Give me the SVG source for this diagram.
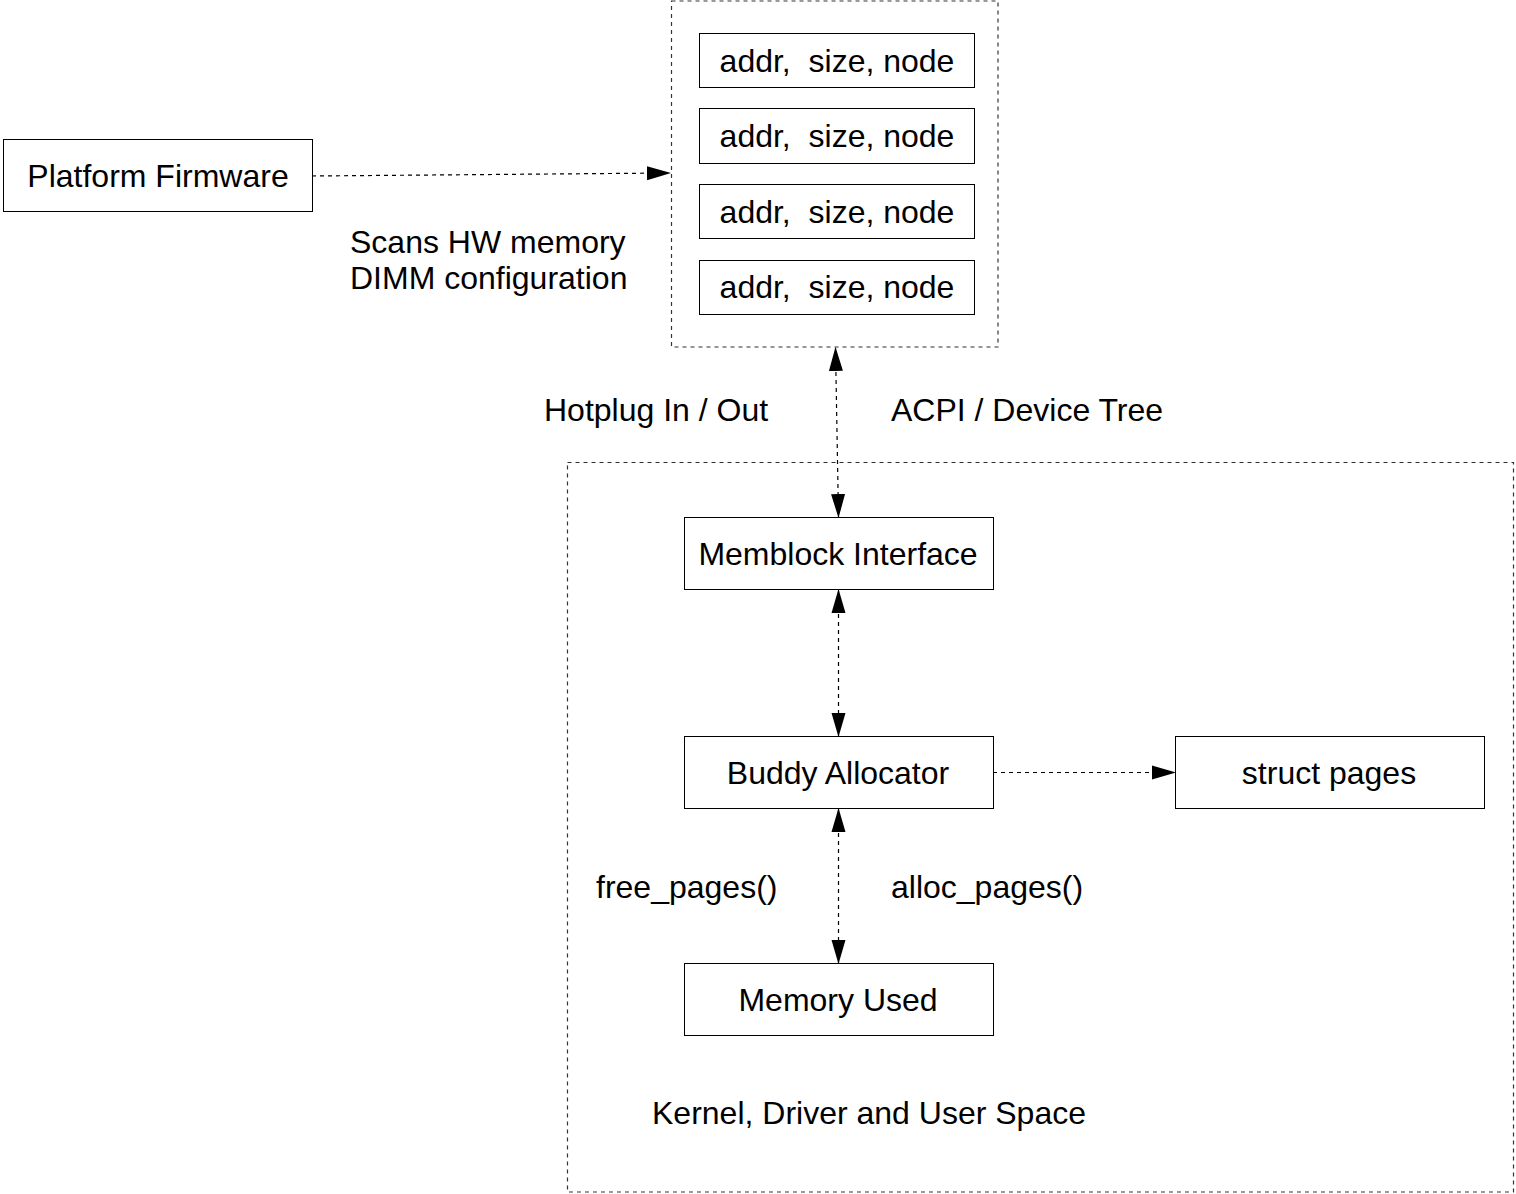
<svg xmlns="http://www.w3.org/2000/svg" width="1516" height="1194" viewBox="0 0 1516 1194">
  <style>
    .box { fill: #ffffff; stroke: #000000; stroke-width: 1; }
    .frame { fill: none; stroke: #333333; stroke-width: 1.2; stroke-dasharray: 4 4; }
    .link { fill: none; stroke: #000000; stroke-width: 1.2; stroke-dasharray: 4 4; }
    text { font-family: "Liberation Sans", Arial, sans-serif; font-size: 32px; fill: #000000; white-space: pre; }
    .c { text-anchor: middle; }
  </style>
  <defs>
    <marker id="arrow" viewBox="0 0 24 16" refX="23" refY="8" markerWidth="24" markerHeight="16" markerUnits="userSpaceOnUse" orient="auto-start-reverse">
      <path d="M0,1 L24,8 L0,15 Z" fill="#000000"/>
    </marker>
  </defs>

  <!-- containers -->
  <rect id="firmware-table" class="frame" x="671.5" y="1" width="326.5" height="346"/>
  <rect id="kernel-space" class="frame" x="567.5" y="462.5" width="946" height="729.5"/>

  <!-- connectors -->
  <g id="connectors">
    <line class="link" x1="312" y1="176" x2="670" y2="173" marker-end="url(#arrow)"/>
    <line class="link" x1="835.5" y1="348" x2="838.5" y2="517" marker-start="url(#arrow)" marker-end="url(#arrow)"/>
    <line class="link" x1="838.5" y1="590" x2="838.5" y2="736" marker-start="url(#arrow)" marker-end="url(#arrow)"/>
    <line class="link" x1="838.5" y1="809" x2="838.5" y2="963" marker-start="url(#arrow)" marker-end="url(#arrow)"/>
    <line class="link" x1="993" y1="772.5" x2="1175" y2="772.5" marker-end="url(#arrow)"/>
  </g>

  <g id="platform-firmware">
    <rect class="box" x="3.5" y="139.5" width="309" height="72"/>
    <text class="c" x="158" y="187">Platform Firmware</text>
  </g>

  <g id="entry-1">
    <rect class="box" x="699.5" y="33.5" width="275" height="54"/>
    <text class="c" x="837" y="72" xml:space="preserve">addr,  size, node</text>
  </g>
  <g id="entry-2">
    <rect class="box" x="699.5" y="108.5" width="275" height="55"/>
    <text class="c" x="837" y="147" xml:space="preserve">addr,  size, node</text>
  </g>
  <g id="entry-3">
    <rect class="box" x="699.5" y="184.5" width="275" height="54"/>
    <text class="c" x="837" y="223" xml:space="preserve">addr,  size, node</text>
  </g>
  <g id="entry-4">
    <rect class="box" x="699.5" y="260.5" width="275" height="54"/>
    <text class="c" x="837" y="298" xml:space="preserve">addr,  size, node</text>
  </g>

  <g id="memblock-interface">
    <rect class="box" x="684.5" y="517.5" width="309" height="72"/>
    <text class="c" x="838" y="565">Memblock Interface</text>
  </g>
  <g id="buddy-allocator">
    <rect class="box" x="684.5" y="736.5" width="309" height="72"/>
    <text class="c" x="838" y="784">Buddy Allocator</text>
  </g>
  <g id="struct-pages">
    <rect class="box" x="1175.5" y="736.5" width="309" height="72"/>
    <text class="c" x="1329" y="784">struct pages</text>
  </g>
  <g id="memory-used">
    <rect class="box" x="684.5" y="963.5" width="309" height="72"/>
    <text class="c" x="838" y="1011">Memory Used</text>
  </g>

  <!-- labels -->
  <text x="350" y="253">Scans HW memory</text>
  <text x="350" y="289">DIMM configuration</text>
  <text x="544" y="421">Hotplug In / Out</text>
  <text x="891" y="421">ACPI / Device Tree</text>
  <text x="596" y="898">free_pages()</text>
  <text x="891" y="898">alloc_pages()</text>
  <text x="652" y="1124">Kernel, Driver and User Space</text>
</svg>
